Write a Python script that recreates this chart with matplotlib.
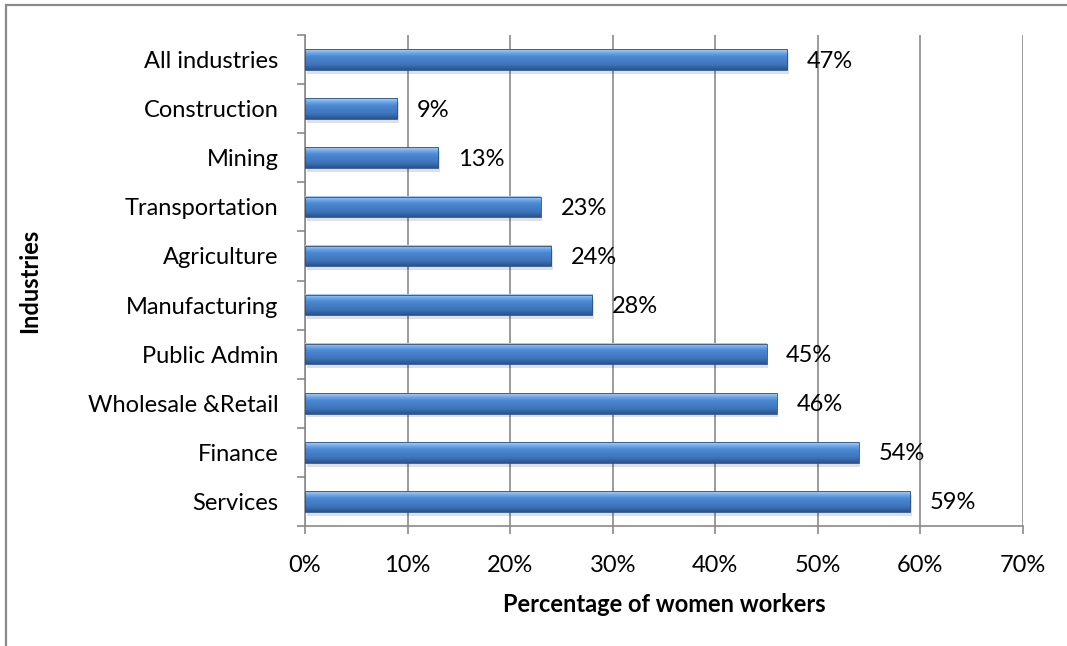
import numpy as np
import matplotlib
matplotlib.use("Agg")
import matplotlib.pyplot as plt
from matplotlib.colors import LinearSegmentedColormap
from matplotlib.patches import Rectangle

industries = ["All industries", "Construction", "Mining", "Transportation",
              "Agriculture", "Manufacturing", "Public Admin",
              "Wholesale &Retail", "Finance", "Services"]
women_pct = [47, 9, 13, 23, 24, 28, 45, 46, 54, 59]
x_ticks = [0, 10, 20, 30, 40, 50, 60, 70]

plt.rcParams['font.family'] = ['Lato', 'DejaVu Sans']
fs = 17

fig = plt.figure(figsize=(10.67, 6.46), dpi=100)
ax = fig.add_axes([305/1067, 1-526/646, 718/1067, 491/646])

# outer chart border (cropped on right/bottom)
fig.patches.append(Rectangle((6/1067, -0.1), 1.2, 1-5/646+0.1, transform=fig.transFigure,
                             fill=False, edgecolor='#8a8a8a', linewidth=1.6, zorder=0))

# top -> bottom shading of the bars
grad = LinearSegmentedColormap.from_list(
    "bar", [(0.0, "#a9d1f6"), (0.18, "#6fa8e8"), (0.35, "#4c88d2"),
            (0.75, "#3e74ba"), (1.0, "#2a528a")])
g = np.linspace(0, 1, 64).reshape(-1, 1)

ypos = np.arange(len(industries))
h = 0.42
for y, v in zip(ypos, women_pct):
    ax.barh(y + 0.08, v, height=h, left=0.15, color='#000000', alpha=0.12, zorder=2, linewidth=0)
    ax.imshow(g, cmap=grad, aspect='auto', extent=[0, v, y + h/2, y - h/2],
              origin='upper', zorder=3, interpolation='bicubic')
    ax.barh(y, v, height=h, fill=False, edgecolor='#2a5184', linewidth=0.6, zorder=4)
    ax.text(v + 1.9, y + 0.03, f"{v}%", va='center', ha='left', fontsize=fs, zorder=5)

ax.set_xlim(0, 70)
ax.set_ylim(len(industries) - 0.5, -0.5)
ax.set_xticks(x_ticks)
ax.set_xticklabels([f"{t}%" for t in x_ticks], fontsize=fs)
ax.set_yticks(ypos)
ax.set_yticklabels(industries, fontsize=fs)
ax.set_yticks(np.arange(-0.5, len(industries)), minor=True)
ax.tick_params(axis='y', which='major', length=0, pad=19)
ax.tick_params(axis='y', which='minor', length=6, width=1.2, color='#8a8a8a', direction='out')
ax.tick_params(axis='x', length=6, width=1.2, color='#8a8a8a', pad=15)

ax.grid(axis='x', color='#8a8a8a', linewidth=1.2)
ax.set_axisbelow(True)
for s in ['top', 'right']:
    ax.spines[s].set_visible(False)
for s in ['left', 'bottom']:
    ax.spines[s].set_color('#8a8a8a')
    ax.spines[s].set_linewidth(1.2)

ax.set_xlabel("Percentage of women workers", fontsize=fs, fontweight='bold', labelpad=12)
ax.set_ylabel("Industries", fontsize=fs, fontweight='bold')
ax.yaxis.set_label_coords(-0.368, 0.5)

fig.savefig("out.png", dpi=100)
